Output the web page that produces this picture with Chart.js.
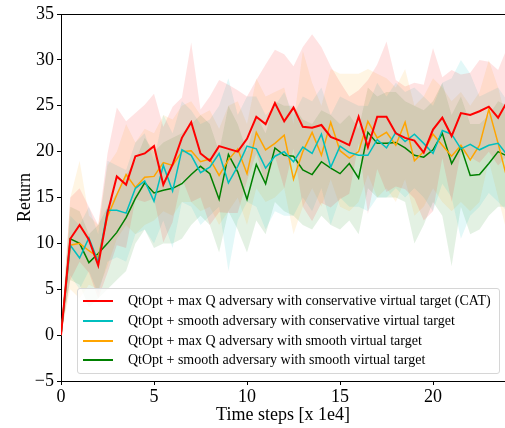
<!DOCTYPE html>
<html>
<head>
<meta charset="utf-8">
<script src="https://cdn.jsdelivr.net/npm/chart.js@4.4.0/dist/chart.umd.min.js"></script>
<style>
  body { margin: 0; background: #fff; }
  #wrap { position: relative; width: 505px; height: 428px; }
  #legend {
    position: absolute; left: 77px; top: 288px; width: 421px; height: 84px;
    border: 1px solid #d6d6d6; border-radius: 3px; background: rgba(255,255,255,0.8);
    font-family: "Liberation Serif", serif; font-size: 14px; color: #000;
  }
  .row { position: absolute; left: 5px; height: 20px; display: flex; align-items: center; white-space: nowrap; }
  .swatch { width: 30px; height: 2px; margin-right: 15px; }
</style>
</head>
<body>
<div id="wrap">
  <canvas id="myChart" width="505" height="428"></canvas>
  <div id="legend"></div>
</div>
<script>
const xSteps = [0, 0.5, 1, 1.5, 2, 2.5, 3, 3.5, 4, 4.5, 5, 5.5, 6, 6.5, 7, 7.5, 8, 8.5, 9, 9.5,
  10, 10.5, 11, 11.5, 12, 12.5, 13, 13.5, 14, 14.5, 15, 15.5, 16, 16.5, 17, 17.5, 18, 18.5, 19, 19.5,
  20, 20.5, 21, 21.5, 22, 22.5, 23, 23.5, 24];
const xTicks = [0, 5, 10, 15, 20];

const labels = [
  "QtOpt + max Q adversary with conservative virtual target (CAT)",
  "QtOpt + smooth adversary with conservative virtual target",
  "QtOpt + max Q adversary with smooth virtual target",
  "QtOpt + smooth adversary with smooth virtual target",
];
const colors = ["#ff0000", "#00bfbf", "#ffa500", "#008000"];
const bandColors = ["rgba(255,0,0,0.11)", "rgba(0,191,191,0.11)", "rgba(255,165,0,0.11)", "rgba(0,128,0,0.11)"];

const catMean = [0, 10.5, 12.0, 10.4, 7.6, 13.3, 17.3, 16.4, 19.5, 19.8, 20.6, 16.4, 18.6, 21.5, 23.2, 19.8, 19.0, 20.6, 20.3, 20.0,
  21.4, 23.8, 23.0, 25.3, 23.3, 24.8, 22.7, 22.6, 22.9, 21.6, 21.2, 20.7, 23.8, 20.5, 23.8, 23.8, 22.0, 21.5, 21.2, 19.9,
  22.4, 23.7, 21.7, 24.2, 24.0, 24.4, 24.9, 23.7, 25.5];
const catUpper = [0, 15, 16, 14, 12, 19.8, 24.8, 23.3, 24.2, 25.1, 26.3, 22.7, 24.9, 25.9, 31.9, 24.6, 26, 27.8, 27.3, 26.7,
  26, 27.8, 29.5, 31.1, 30.6, 29.3, 31.4, 32.8, 31.4, 29.3, 27.6, 26, 26.7, 27.8, 29.5, 32, 27.8, 27.1, 27.5, 27.3,
  31.3, 28.1, 28.9, 28.4, 28.6, 30, 29.8, 28.9, 31.4];
const catLower = [0, 6, 8, 6.8, 4, 6.8, 9.8, 9.5, 14.8, 14.5, 14.9, 10.1, 12.3, 17.1, 14.5, 15, 12, 13.4, 13.3, 13.3,
  16.8, 19.8, 16.5, 19.5, 16, 20.3, 14, 12.4, 14.4, 13.9, 14.8, 15.4, 20.9, 13.2, 18.1, 15.6, 16.2, 15.9, 14.9, 12.5,
  13.5, 19.3, 14.5, 20, 19.4, 18.8, 20, 18.5, 19.6];

const smoothConsMean = [0, 9.8, 8.4, 10.6, 8.0, 13.6, 13.6, 13.3, 16.0, 16.8, 14.6, 18.5, 15.7, 20.2, 19.6, 17.7, 18.3, 19.8, 16.6, 18.4,
  20.6, 20.3, 18.2, 19.5, 20.0, 18.9, 20.5, 19.8, 21.9, 18.3, 20.6, 19.9, 19.6, 19.6, 21.3, 20.4, 22.1, 21.1, 21.9, 20.9,
  19.8, 22.3, 21.9, 20.3, 20.8, 20.2, 20.7, 20.9, 19.6];
const smoothConsUpper = [0, 13, 12, 14, 11, 19, 18.5, 18, 21, 22, 19, 24, 22, 25.5, 24.5, 23, 23.5, 25, 28, 24,
  26, 26, 24, 25, 26.5, 24, 26, 25.5, 27, 24, 26, 25.5, 25, 25, 27.5, 26, 27.5, 26.5, 27, 26,
  25, 27.5, 28, 30, 28.5, 26, 26.5, 27, 25.5];
const smoothConsLower = [0, 6.5, 5, 7, 4.5, 8, 8.5, 8, 11, 11.5, 10, 12.5, 9.5, 14.5, 14, 12, 13, 14, 7, 12.5,
  14.5, 14, 11.5, 13.5, 13, 13, 15, 13.5, 16, 12, 15, 14, 14, 13.5, 15, 15, 16, 15, 16, 15,
  13.5, 16.5, 15, 10.5, 13, 14, 15.5, 14.5, 13.5];

const maxQSmoothMean = [0, 9.8, 10.0, 9.2, 8.5, 12.9, 15.3, 17.5, 16.1, 17.2, 17.3, 18.8, 18.5, 20.0, 20.1, 18.9, 19.2, 17.4, 19.1, 20.3,
  17.6, 22.1, 20.2, 20.9, 21.8, 17.0, 20.0, 22.1, 19.6, 23.2, 20.1, 19.3, 20.0, 23.3, 21.5, 22.1, 20.7, 23.2, 19.0, 20.0,
  21.9, 20.7, 19.5, 20.7, 19.1, 20.7, 24.6, 20.9, 16.9];
const maxQSmoothUpper = [0, 15, 19, 13, 12, 18.5, 20, 23, 21, 22.5, 22, 24, 23.5, 25, 25.5, 24, 24.5, 22.5, 25, 25.5,
  23, 28, 26, 26.5, 27, 23, 31, 27.5, 25, 29, 28.5, 28.5, 28.5, 29, 28.5, 28, 27, 29, 25, 26,
  28, 27, 25.5, 26.5, 25, 26.5, 30, 27, 23];
const maxQSmoothLower = [0, 5, 4, 5.5, 5, 7.5, 10.5, 12, 11, 12, 12.5, 13.5, 13, 14.5, 14.5, 13.5, 14, 12, 13.5, 15,
  12, 16, 14.5, 15, 16, 11, 14, 16, 14, 17, 14, 13.5, 14.5, 17.5, 15, 16, 14.5, 17, 13, 14,
  16, 14.5, 13.5, 14.5, 13.5, 14.5, 19, 15, 11];

const smoothSmoothMean = [0, 10.5, 10.0, 7.9, 8.9, 10.0, 11.2, 12.8, 14.9, 16.6, 15.5, 15.8, 16.0, 16.5, 17.5, 18.4, 17.6, 14.8, 19.7, 17.8,
  14.8, 18.6, 16.5, 20.4, 19.6, 19.5, 18.0, 17.5, 18.9, 18.2, 17.6, 18.7, 17.1, 22.1, 20.9, 20.9, 21.0, 20.4, 19.6, 19.4,
  20.2, 22.0, 18.7, 20.5, 17.4, 17.5, 18.7, 20.0, 19.5];
const smoothSmoothUpper = [0, 14, 13.5, 11, 12, 14, 15.5, 17.5, 19, 21.5, 20, 21, 21.5, 22, 23, 24, 23, 20, 25, 23,
  20, 24, 22, 25.5, 25, 25, 23.5, 23, 24.5, 24, 23, 24, 22.5, 27, 26, 26.5, 26.5, 25.5, 25, 24.5,
  25.5, 27.5, 24, 26, 23, 23, 24, 25.5, 25];
const smoothSmoothLower = [0, 6, 5.5, 3, 4, 5, 6, 7, 10, 11.5, 9.5, 10, 10, 10.5, 12, 13, 12, 9, 13.5, 11.5,
  9, 12.5, 11, 14.5, 13.5, 13, 12, 11.5, 13, 12, 11.5, 12.5, 11, 16, 15, 15, 15, 14.5, 10, 12,
  14.5, 13, 7.5, 14, 11, 11.5, 13, 14, 14];

const means = [catMean, smoothConsMean, maxQSmoothMean, smoothSmoothMean];
const uppers = [catUpper, smoothConsUpper, maxQSmoothUpper, smoothSmoothUpper];
const lowers = [catLower, smoothConsLower, maxQSmoothLower, smoothSmoothLower];
const lineWidths = [2, 1.5, 1.5, 1.5];

function pts(arr) {
  return arr.map((v, i) => ({ x: xSteps[i], y: v }));
}

const datasets = [];
means.forEach((m, i) => {
  datasets.push({
    label: labels[i], data: pts(m), borderColor: colors[i], borderWidth: lineWidths[i],
    pointRadius: 0, fill: false, tension: 0, order: 0,
  });
});
uppers.forEach((u, i) => {
  datasets.push({
    label: "", data: pts(u), borderWidth: 0, borderColor: "rgba(0,0,0,0)",
    backgroundColor: bandColors[i], pointRadius: 0, fill: "+1", order: 1,
  });
  datasets.push({
    label: "", data: pts(lowers[i]), borderWidth: 0, borderColor: "rgba(0,0,0,0)",
    pointRadius: 0, fill: false, order: 1,
  });
});

const topSpine = {
  id: "topSpine",
  afterDraw(chart) {
    const a = chart.chartArea, c = chart.ctx;
    c.save();
    c.strokeStyle = "#000";
    c.lineWidth = 1;
    c.beginPath();
    c.moveTo(a.left, a.top + 0.5);
    c.lineTo(a.right, a.top + 0.5);
    c.stroke();
    c.restore();
  },
};

const serif = "'Liberation Serif', 'Times New Roman', serif";
const ctx = document.getElementById("myChart").getContext("2d");
const myChart = new Chart(ctx, {
  type: "line",
  data: { datasets: datasets },
  options: {
    responsive: false,
    animation: false,
    devicePixelRatio: 1,
    layout: { padding: { top: 14, right: 0, left: 0, bottom: 0 } },
    plugins: { legend: { display: false }, tooltip: { enabled: false } },
    scales: {
      x: {
        type: "linear", min: 0, max: 23.87,
        afterBuildTicks: (s) => { s.ticks = xTicks.map((v) => ({ value: v })); },
        afterFit: (s) => { s.height = 47; },
        ticks: { color: "#000", font: { family: serif, size: 18 }, padding: 1, maxRotation: 0, autoSkip: false },
        grid: { drawOnChartArea: false, color: "#000", tickLength: 4 },
        border: { color: "#000", width: 1 },
        title: { display: true, text: "Time steps [x 1e4]", color: "#000", font: { family: serif, size: 18 }, padding: { top: 2, bottom: 2 } },
      },
      y: {
        min: -5, max: 35,
        afterFit: (s) => { s.width = 61; },
        ticks: {
          stepSize: 5, color: "#000", font: { family: serif, size: 18 }, padding: 3,
          callback: (v) => (v < 0 ? "\u2212" + Math.abs(v) : v),
        },
        grid: { drawOnChartArea: false, color: "#000", tickLength: 4 },
        border: { color: "#000", width: 1 },
        title: { display: true, text: "Return", color: "#000", font: { family: serif, size: 18 }, padding: { top: 14, bottom: 0 } },
      },
    },
  },
  plugins: [topSpine],
});

const legendEl = document.getElementById("legend");
const rowTops = [2, 22, 42, 61];
labels.forEach((t, i) => {
  const row = document.createElement("div");
  row.className = "row";
  row.style.top = rowTops[i] + "px";
  row.innerHTML = '<span class="swatch" style="background:' + colors[i] + '"></span><span>' + t + "</span>";
  legendEl.appendChild(row);
});
</script>
</body>
</html>
